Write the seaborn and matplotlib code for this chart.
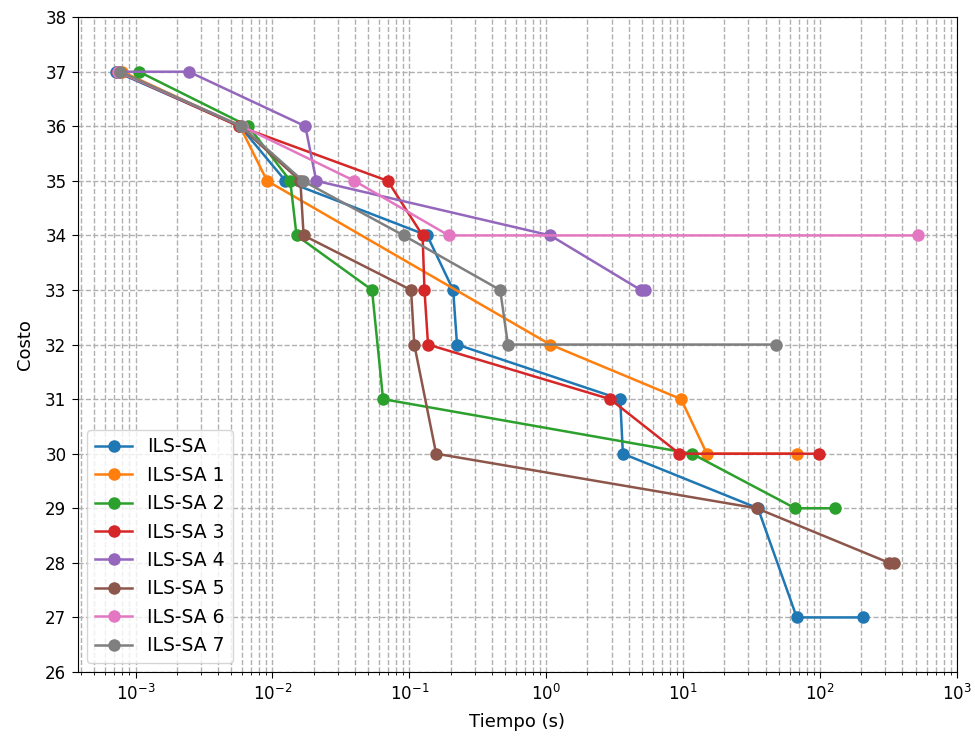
import matplotlib
matplotlib.use("Agg")
import matplotlib.pyplot as plt
import numpy as np
import seaborn as sns
import pandas as pd

# tiempo (s) y costo de cada variante
ils_sa_t = [7.2e-4, 0.0058, 0.01245, 0.135, 0.209, 0.223, 3.47, 3.63, 35.2, 67.6, 206]
ils_sa_c = [37, 36, 35, 34, 33, 32, 31, 30, 29, 27, 27]
ils_sa1_t = [8.0e-4, 0.0058, 0.00914, 1.07, 9.66, 14.9, 68.2]
ils_sa1_c = [37, 36, 35, 32, 31, 30, 30]
ils_sa2_t = [1.06e-3, 0.00668, 0.0135, 0.0150, 0.0534, 0.0643, 11.6, 65.8, 128]
ils_sa2_c = [37, 36, 35, 34, 33, 31, 30, 29, 29]
ils_sa3_t = [7.5e-4, 0.00568, 0.0695, 0.125, 0.129, 0.137, 2.93, 9.4, 98.9]
ils_sa3_c = [37, 36, 35, 34, 33, 32, 31, 30, 30]
ils_sa4_t = [7.5e-4, 2.45e-3, 0.0174, 0.0209, 1.07, 4.9, 5.3]
ils_sa4_c = [37, 37, 36, 35, 34, 33, 33]
ils_sa5_t = [7.5e-4, 0.0058, 0.016, 0.0169, 0.103, 0.1087, 0.157, 34.5, 320, 345]
ils_sa5_c = [37, 36, 35, 34, 33, 32, 30, 29, 28, 28]
ils_sa6_t = [7.5e-4, 0.006, 0.0397, 0.194, 521]
ils_sa6_c = [37, 36, 35, 34, 34]
ils_sa7_t = [7.7e-4, 0.00594, 0.0167, 0.0908, 0.461, 0.525, 47.8]
ils_sa7_c = [37, 36, 35, 34, 33, 32, 32]

x_ticks = [1e-3, 1e-2, 1e-1, 1e0, 1e1, 1e2, 1e3]

series = [
    ("ILS-SA", ils_sa_t, ils_sa_c),
    ("ILS-SA 1", ils_sa1_t, ils_sa1_c),
    ("ILS-SA 2", ils_sa2_t, ils_sa2_c),
    ("ILS-SA 3", ils_sa3_t, ils_sa3_c),
    ("ILS-SA 4", ils_sa4_t, ils_sa4_c),
    ("ILS-SA 5", ils_sa5_t, ils_sa5_c),
    ("ILS-SA 6", ils_sa6_t, ils_sa6_c),
    ("ILS-SA 7", ils_sa7_t, ils_sa7_c),
]

colors = sns.color_palette("tab10")
plt.rcParams["font.size"] = 12
plt.rcParams["xtick.major.size"] = 4.2
plt.rcParams["ytick.major.size"] = 4.2
plt.rcParams["xtick.major.pad"] = 4.2
plt.rcParams["ytick.major.pad"] = 4.2

fig = plt.figure(figsize=(9.75, 7.45), dpi=100)
ax = fig.add_axes([0.08, 0.098, 0.9015, 0.879])

for i, (name, t, c) in enumerate(series):
    df = pd.DataFrame({"Tiempo (s)": t, "Costo": c})
    sns.lineplot(data=df, x="Tiempo (s)", y="Costo", sort=False, estimator=None,
                 marker="o", markersize=9, markeredgewidth=0, linewidth=1.8,
                 color=colors[i], label=name, ax=ax)

ax.set_xscale("log")
ax.set_xticks(x_ticks)
ax.set_xlim(10**-3.42, 1e3)
ax.set_ylim(26, 38)
ax.set_yticks(range(26, 39))
ax.set_xlabel("Tiempo (s)", fontsize=13, labelpad=7)
ax.set_ylabel("Costo", fontsize=13, labelpad=8)
ax.grid(True, which="both", linestyle="--", linewidth=1.0)
ax.legend(loc="lower left", fontsize=13.5)

plt.savefig("out.png", dpi=100)
